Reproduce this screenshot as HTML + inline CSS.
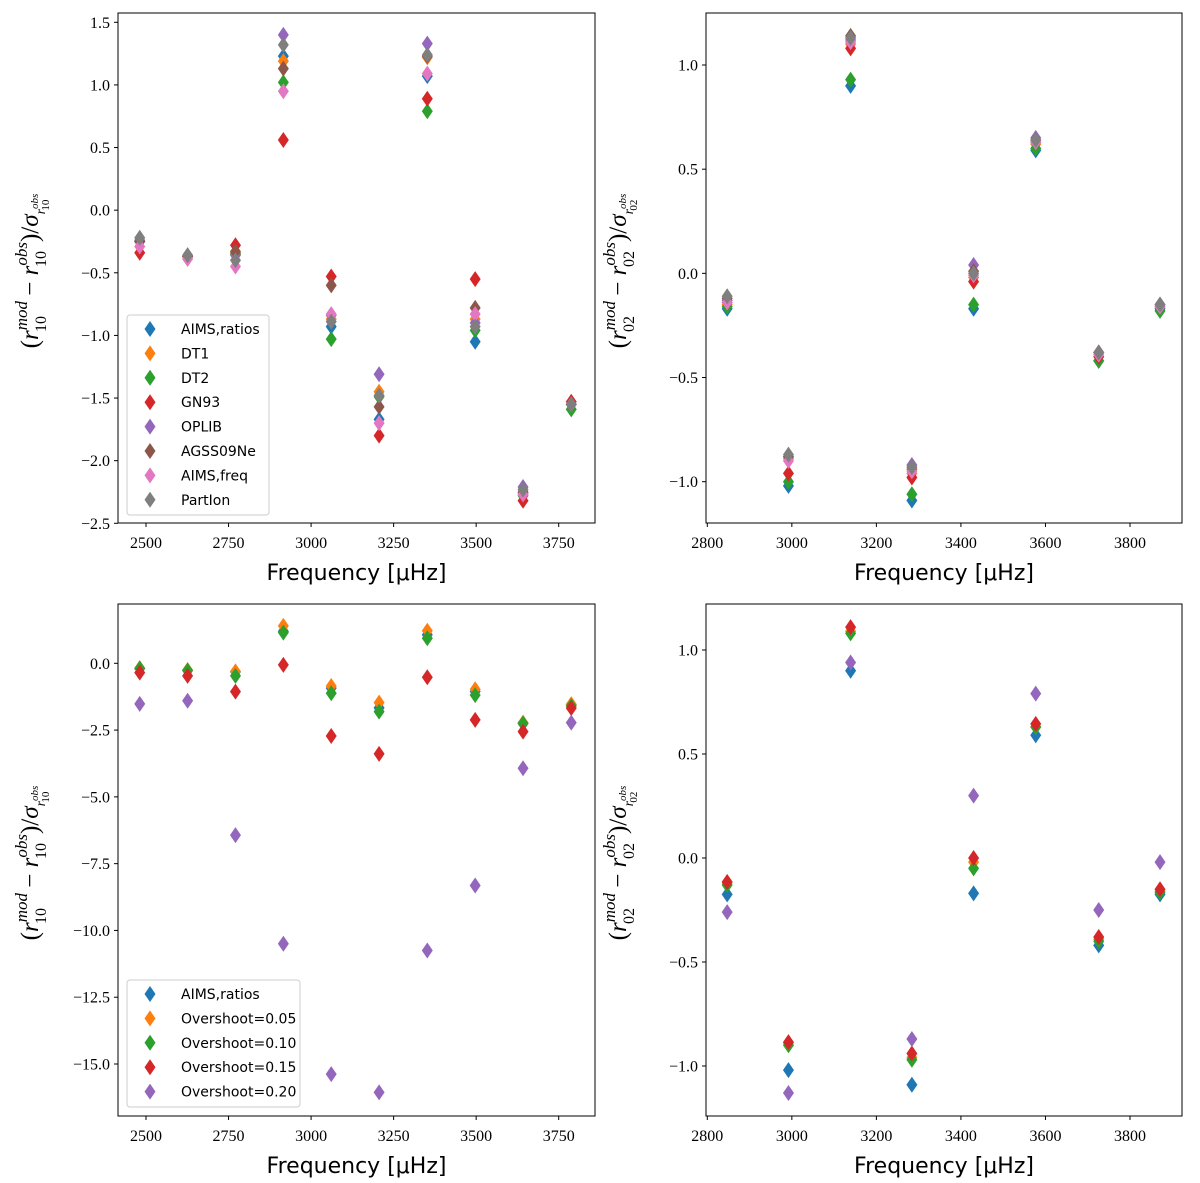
<!DOCTYPE html>
<html><head><meta charset="utf-8"><style>
html,body{margin:0;padding:0;background:#fff;}
svg{display:block;}
.tick{font-family:"Liberation Serif",serif;font-size:16px;fill:#000;}
.xl{font-family:"DejaVu Sans","Liberation Sans",sans-serif;font-size:22px;fill:#000;}
.yl{font-family:"Liberation Serif",serif;font-size:25px;fill:#000;}
.leg{font-family:"DejaVu Sans","Liberation Sans",sans-serif;font-size:14px;fill:#000;}
</style></head><body>
<svg id="fig" width="1200" height="1183" viewBox="0 0 1200 1183" xmlns="http://www.w3.org/2000/svg"></svg>
<script>
// ---------- data ----------
const freq10 = [2481,2626,2771,2916,3061,3206,3352,3497,3642,3788];
const freq02 = [2847,2992,3139,3284,3430,3577,3726,3871];
const colors = ["#1f77b4","#ff7f0e","#2ca02c","#d62728","#9467bd","#8c564b","#e377c2","#7f7f7f"];
const namesA = ["AIMS,ratios","DT1","DT2","GN93","OPLIB","AGSS09Ne","AIMS,freq","PartIon"];
const namesB = ["AIMS,ratios","Overshoot=0.05","Overshoot=0.10","Overshoot=0.15","Overshoot=0.20"];
const xticks10 = [2500,2750,3000,3250,3500,3750];
const xticks02 = [2800,3000,3200,3400,3600,3800];
const yticksTL = [1.5,1.0,0.5,0.0,-0.5,-1.0,-1.5,-2.0,-2.5];
const yticksTR = [1.0,0.5,0.0,-0.5,-1.0];
const yticksBL = [0.0,-2.5,-5.0,-7.5,-10.0,-12.5,-15.0];
const yticksBR = [1.0,0.5,0.0,-0.5,-1.0];
// top-left r10 series
const tlAims  = [-0.25,-0.37,-0.35,1.23,-0.93,-1.67,1.07,-1.05,-2.26,-1.55];
const tlDT1   = [-0.25,-0.37,-0.34,1.19,-0.87,-1.45,1.22,-0.87,-2.26,-1.55];
const tlDT2   = [-0.25,-0.37,-0.35,1.02,-1.03,-1.49,0.79,-0.96,-2.28,-1.59];
const tlGN93  = [-0.34,-0.37,-0.28,0.56,-0.53,-1.80,0.89,-0.55,-2.32,-1.53];
const tlOPLIB = [-0.24,-0.36,-0.36,1.40,-0.84,-1.31,1.33,-0.90,-2.21,-1.55];
const tlAGSS  = [-0.25,-0.37,-0.33,1.13,-0.60,-1.57,1.23,-0.78,-2.25,-1.55];
const tlFreq  = [-0.29,-0.39,-0.45,0.95,-0.83,-1.70,1.09,-0.83,-2.27,-1.55];
const tlPart  = [-0.22,-0.36,-0.40,1.32,-0.89,-1.48,1.24,-0.93,-2.23,-1.55];
// top-right r02 series
const trAims  = [-0.17,-1.02,0.90,-1.09,-0.17,0.59,-0.42,-0.17];
const trDT1   = [-0.15,-0.89,1.10,-0.96,-0.02,0.62,-0.38,-0.16];
const trDT2   = [-0.16,-1.00,0.93,-1.06,-0.15,0.60,-0.42,-0.18];
const trGN93  = [-0.14,-0.96,1.08,-0.98,-0.04,0.63,-0.40,-0.16];
const trOPLIB = [-0.13,-0.88,1.12,-0.92,0.04,0.65,-0.38,-0.15];
const trAGSS  = [-0.12,-0.88,1.14,-0.94,0.01,0.64,-0.38,-0.15];
const trFreq  = [-0.14,-0.90,1.11,-0.95,-0.01,0.63,-0.39,-0.16];
const trPart  = [-0.11,-0.87,1.13,-0.93,0.00,0.64,-0.38,-0.15];
// bottom-left r10 overshoot series
const blAims = [-0.20,-0.27,-0.32,1.20,-0.93,-1.67,1.07,-1.05,-2.26,-1.55];
const blOv05 = [-0.18,-0.25,-0.30,1.40,-0.85,-1.47,1.22,-0.97,-2.22,-1.53];
const blOv10 = [-0.19,-0.27,-0.47,1.15,-1.12,-1.81,0.94,-1.19,-2.25,-1.60];
const blOv15 = [-0.35,-0.47,-1.06,-0.06,-2.72,-3.39,-0.52,-2.12,-2.56,-1.68];
const blOv20 = [-1.52,-1.40,-6.43,-10.50,-15.38,-16.06,-10.75,-8.32,-3.93,-2.22];
// bottom-right r02 overshoot series
const brAims = [-0.175,-1.02,0.90,-1.09,-0.17,0.59,-0.42,-0.175];
const brOv05 = [-0.12,-0.89,1.09,-0.96,-0.02,0.63,-0.39,-0.16];
const brOv10 = [-0.13,-0.90,1.08,-0.97,-0.05,0.63,-0.40,-0.165];
const brOv15 = [-0.115,-0.885,1.11,-0.94,0.00,0.645,-0.38,-0.15];
const brOv20 = [-0.26,-1.13,0.94,-0.87,0.30,0.79,-0.25,-0.02];

// ---------- drawing ----------
const NS="http://www.w3.org/2000/svg";
const fig=document.getElementById('fig');
function mk(tag,attrs,parent){const e=document.createElementNS(NS,tag);for(const k in attrs)e.setAttribute(k,attrs[k]);(parent||fig).appendChild(e);return e;}
function lin(d0,d1,r0,r1){return v=>r0+(v-d0)*(r1-r0)/(d1-d0);}
function fmt(v){return (v<0?"\u2212":"")+Math.abs(v).toFixed(1);}

function panel(p){
  const g=mk('g',{});
  
  
  const X=lin(p.xd[0],p.xd[1],p.xr[0],p.xr[1]);
  const Y=lin(p.yd[0],p.yd[1],p.yr[0],p.yr[1]);
  p.xticks.forEach(t=>{
    const x=X(t);
    const l=mk('line',{x1:x,x2:x,y1:p.box[3],y2:p.box[3]+4,stroke:'#000','stroke-width':1},g);
    
    const tx=mk('text',{x:x,y:p.box[3]+25,'text-anchor':'middle','class':'tick'},g);
    
    tx.textContent=t;
  });
  p.yticks.forEach(t=>{
    const y=Y(t);
    const l=mk('line',{x1:p.box[0]-4,x2:p.box[0],y1:y,y2:y,stroke:'#000','stroke-width':1},g);
    
    const tx=mk('text',{x:p.box[0]-8,y:y+5.5,'text-anchor':'end','class':'tick'},g);
    
    tx.textContent=fmt(t);
  });
  p.series.forEach((s,i)=>{
    const sg=mk('g',{fill:colors[i]},g);
    
    
    s.forEach((v,j)=>{
      const x=X(p.freq[j]),y=Y(v);
      const d=mk('polygon',{points:`${x},${y-8} ${x+5.5},${y} ${x},${y+8} ${x-5.5},${y}`},sg);
      
      
    });
  });
  const fr=mk('rect',{x:p.box[0],y:p.box[1],width:p.box[2]-p.box[0],height:p.box[3]-p.box[1],fill:'none',stroke:'#000','stroke-width':1},g);
  
  const xl=mk('text',{x:(p.box[0]+p.box[2])/2,y:p.box[3]+57,'text-anchor':'middle','class':'xl'},g);
  
  xl.textContent='Frequency [\u03BCHz]';
  const cx=p.box[0]-80, cy=(p.box[1]+p.box[3])/2+3;
  const yl=mk('text',{x:cx,y:cy,'text-anchor':'middle','class':'yl',transform:`rotate(-90 ${cx} ${cy})`},g);
  
  const n=p.ell;
  yl.innerHTML=`(<tspan font-style="italic">r</tspan><tspan font-size="17" dy="-11" font-style="italic">mod</tspan><tspan font-size="16" dx="-31" dy="19">${n}</tspan><tspan dy="-8" dx="14"> \u2212 </tspan><tspan font-style="italic">r</tspan><tspan font-size="17" dy="-11" font-style="italic">obs</tspan><tspan font-size="16" dx="-25" dy="19">${n}</tspan><tspan dy="-8" dx="9">)/</tspan><tspan font-style="italic">σ</tspan><tspan font-size="14" dy="7" font-style="italic">r</tspan><tspan font-size="11" dy="-7" font-style="italic">obs</tspan><tspan font-size="11" dx="-17" dy="11">${n}</tspan>`;
  if(p.leg){
    const L=p.leg;
    const lg=mk('g',{},g);
    
    mk('rect',{x:L[0],y:L[1],width:L[2],height:L[3],rx:3,fill:'#fff','fill-opacity':0.8,stroke:'#ccc','stroke-width':1},lg);
    p.labels.forEach((lab,i)=>{
      const y=L[1]+14+i*24.4;
      const e=mk('g',{},lg);
      
      mk('polygon',{points:`${L[0]+23},${y-8} ${L[0]+28.5},${y} ${L[0]+23},${y+8} ${L[0]+17.5},${y}`,fill:colors[i]},e);
      const t=mk('text',{x:L[0]+54,y:y+5,'class':'leg'},e);
      t.textContent=lab;
    });
  }
}

panel({name:'panel-r10-physics',box:[118,13,595,523],xd:[2500,3750],xr:[146,558.7],yd:[1.5,-2.5],yr:[22.3,523.3],
  xticks:xticks10,yticks:yticksTL,freq:freq10,ell:'10',labels:namesA,
  series:[tlAims,tlDT1,tlDT2,tlGN93,tlOPLIB,tlAGSS,tlFreq,tlPart],leg:[127,315,142,200]});
panel({name:'panel-r02-physics',box:[706,13,1182,523],xd:[2800,3800],xr:[707.3,1130],yd:[1.0,-1.0],yr:[65,481.7],
  xticks:xticks02,yticks:yticksTR,freq:freq02,ell:'02',labels:namesA,
  series:[trAims,trDT1,trDT2,trGN93,trOPLIB,trAGSS,trFreq,trPart]});
panel({name:'panel-r10-overshoot',box:[118,604,595,1116],xd:[2500,3750],xr:[146,558.7],yd:[0,-15],yr:[663.3,1064],
  xticks:xticks10,yticks:yticksBL,freq:freq10,ell:'10',labels:namesB,
  series:[blAims,blOv05,blOv10,blOv15,blOv20],leg:[127,980,173,127]});
panel({name:'panel-r02-overshoot',box:[706,604,1182,1116],xd:[2800,3800],xr:[707.3,1130],yd:[1.0,-1.0],yr:[650,1066],
  xticks:xticks02,yticks:yticksBR,freq:freq02,ell:'02',labels:namesB,
  series:[brAims,brOv05,brOv10,brOv15,brOv20]});
</script>
</body></html>
